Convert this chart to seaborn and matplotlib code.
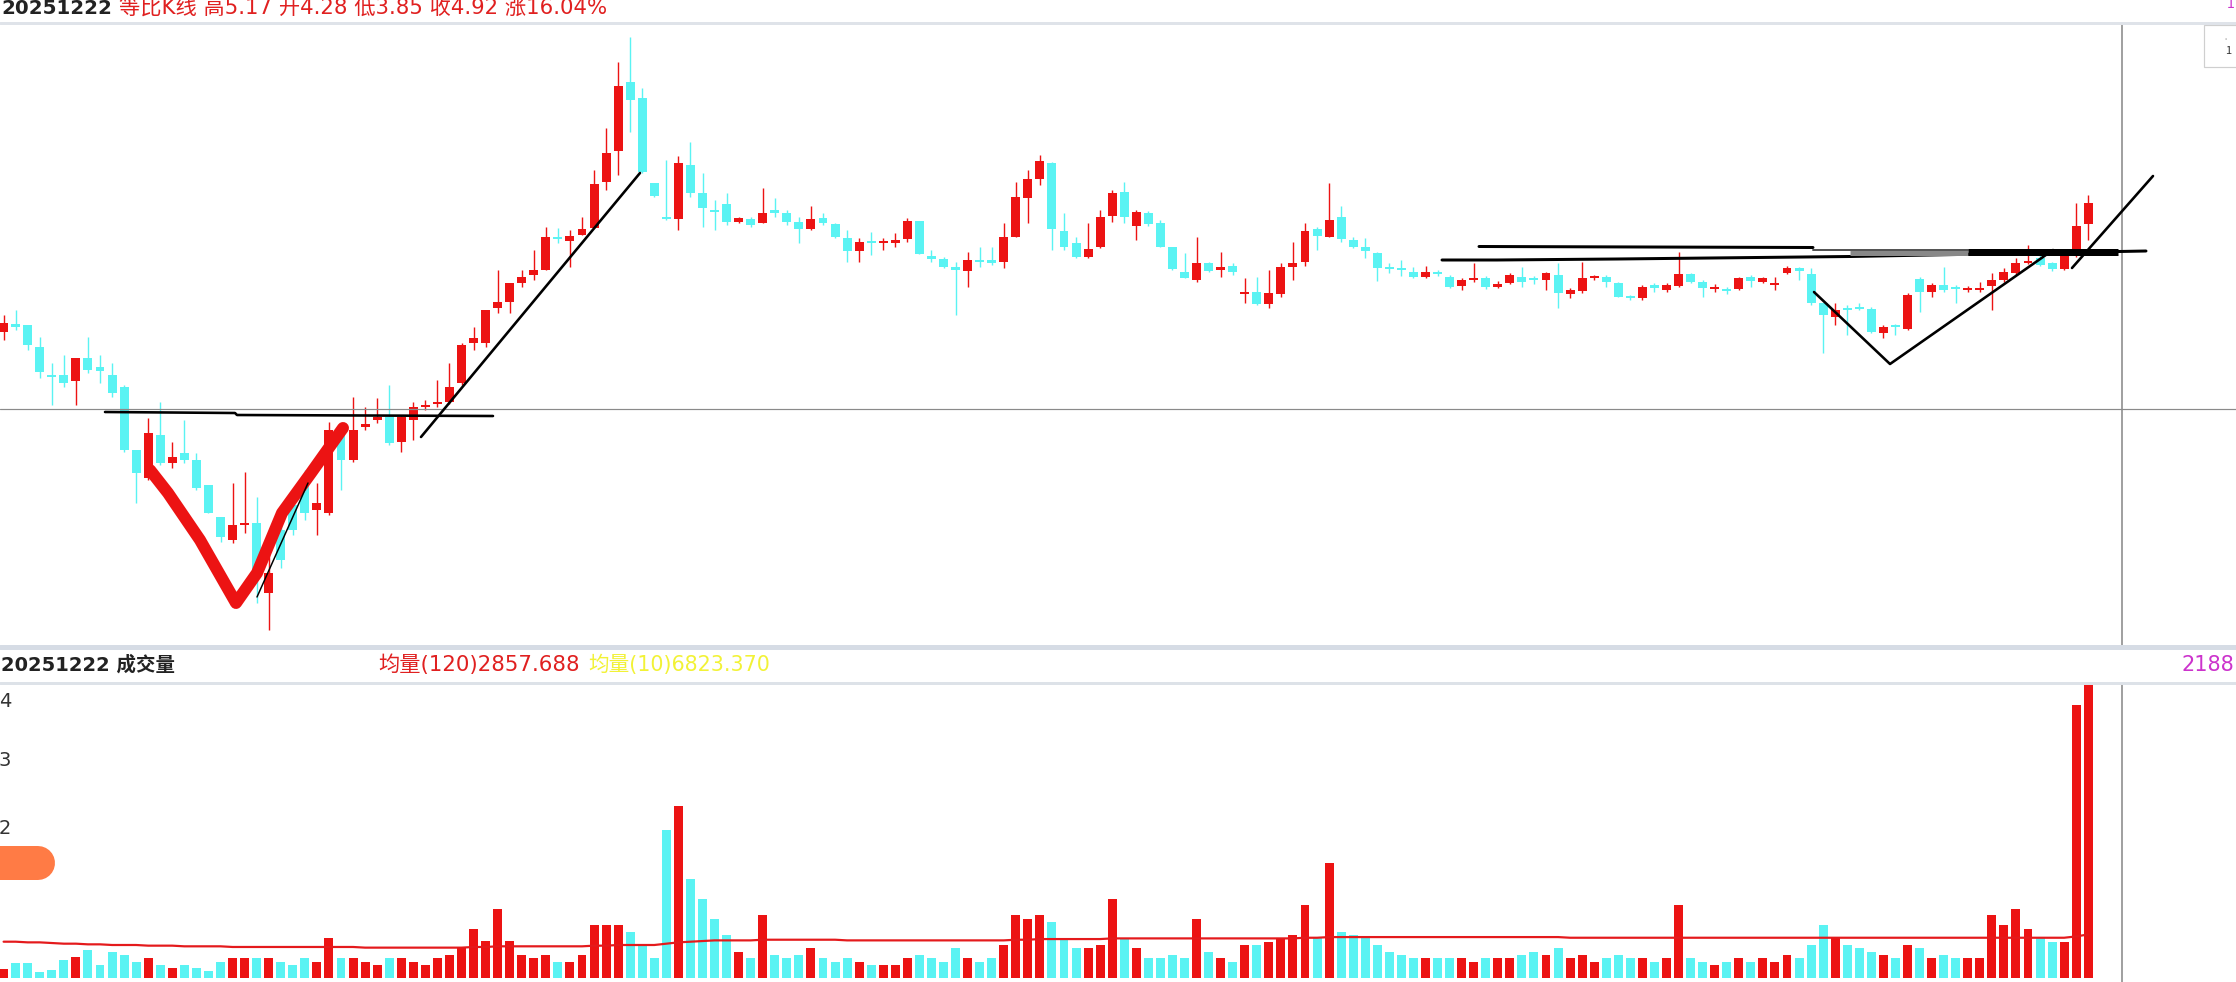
import numpy as np
import pandas as pd
import matplotlib
matplotlib.use("Agg")
import matplotlib.pyplot as plt
import seaborn as sns
from matplotlib.transforms import Affine2D
from matplotlib.patches import Rectangle

# ---------------- data ----------------
open_ = [3.68,3.76,3.75,3.53,3.25,3.25,3.19,3.42,3.33,3.25,
         3.13,2.50,2.22,2.65,2.37,2.47,2.40,2.15,1.83,1.60,
         1.75,1.77,1.07,1.70,1.95,2.17,1.90,1.87,2.67,2.40,
         2.73,2.80,2.83,2.58,2.80,2.93,2.96,2.98,3.17,3.57,
         3.57,3.92,3.98,4.17,4.25,4.30,4.63,4.59,4.65,4.72,
         5.18,5.49,6.18,6.02,5.17,4.83,4.81,5.35,5.07,4.90,
         4.96,4.78,4.81,4.77,4.90,4.87,4.78,4.71,4.82,4.76,
         4.62,4.49,4.59,4.57,4.57,4.61,4.79,4.44,4.41,4.33,
         4.29,4.40,4.40,4.38,4.63,5.02,5.21,5.37,4.69,4.57,
         4.43,4.53,4.84,5.08,4.74,4.87,4.77,4.53,4.28,4.20,
         4.37,4.30,4.34,4.06,4.08,3.96,4.06,4.33,4.38,4.71,
         4.63,4.83,4.60,4.53,4.47,4.33,4.32,4.28,4.23,4.28,
         4.23,4.14,4.20,4.22,4.13,4.17,4.23,4.22,4.20,4.25,
         4.06,4.09,4.22,4.23,4.17,4.03,4.02,4.15,4.10,4.14,
         4.26,4.18,4.11,4.11,4.11,4.23,4.18,4.15,4.27,4.32,
         4.26,3.97,3.83,3.92,3.93,3.91,3.67,3.75,3.71,4.21,
         4.08,4.15,4.13,4.10,4.10,4.14,4.20,4.27,4.37,4.42,
         4.37,4.31,4.44,4.76]
high = [3.85,3.90,3.75,3.63,3.37,3.45,3.42,3.63,3.45,3.37,
        3.15,2.50,2.82,2.98,2.58,2.80,2.47,2.15,1.83,2.17,
        2.28,2.03,1.60,1.80,2.05,2.30,2.17,2.78,2.75,3.03,
        2.93,3.02,3.15,2.85,2.98,3.00,3.20,3.37,3.57,3.73,
        3.90,4.30,4.17,4.30,4.50,4.73,4.72,4.70,4.83,5.30,
        5.72,6.38,6.63,6.12,5.17,5.40,5.44,5.58,5.27,5.00,
        5.07,4.83,4.83,5.12,5.02,4.90,4.83,4.94,4.87,4.77,
        4.70,4.62,4.68,4.62,4.67,4.82,4.79,4.50,4.43,4.38,
        4.48,4.53,4.53,4.77,5.18,5.30,5.45,5.38,4.87,4.63,
        4.77,4.90,5.10,5.18,4.90,4.89,4.80,4.53,4.47,4.63,
        4.38,4.48,4.37,4.22,4.23,4.30,4.37,4.58,4.77,4.73,
        5.17,4.94,4.63,4.62,4.48,4.37,4.40,4.33,4.34,4.30,
        4.25,4.22,4.37,4.24,4.19,4.27,4.33,4.24,4.28,4.37,
        4.12,4.38,4.25,4.25,4.18,4.05,4.15,4.17,4.17,4.48,
        4.27,4.20,4.16,4.13,4.23,4.25,4.23,4.23,4.34,4.33,
        4.32,3.97,3.97,3.95,3.97,3.93,3.75,3.76,4.07,4.23,
        4.17,4.33,4.15,4.14,4.18,4.27,4.32,4.42,4.55,4.45,
        4.38,4.46,4.97,5.05]
low = [3.60,3.70,3.50,3.22,2.95,3.13,2.95,3.27,3.17,3.03,
       2.48,1.97,2.20,2.35,2.32,2.37,2.10,1.87,1.58,1.57,
       1.67,0.97,0.70,1.32,1.65,1.80,1.65,1.85,2.10,2.38,
       2.70,2.77,2.55,2.48,2.60,2.90,2.93,2.96,3.15,3.50,
       3.53,3.87,3.87,4.13,4.20,4.30,4.57,4.33,4.65,4.72,
       5.10,5.25,5.68,5.27,5.03,4.80,4.70,5.03,4.73,4.70,
       4.75,4.77,4.73,4.77,4.83,4.75,4.57,4.70,4.75,4.62,
       4.38,4.38,4.45,4.50,4.53,4.58,4.46,4.38,4.32,3.85,
       4.13,4.33,4.35,4.32,4.63,4.77,5.15,4.50,4.50,4.42,
       4.42,4.52,4.78,4.77,4.60,4.74,4.53,4.30,4.22,4.18,
       4.28,4.23,4.25,3.97,3.95,3.92,4.03,4.20,4.34,4.50,
       4.63,4.58,4.52,4.42,4.19,4.27,4.24,4.22,4.22,4.24,
       4.12,4.10,4.18,4.11,4.12,4.16,4.13,4.16,4.10,3.92,
       4.02,4.07,4.20,4.13,4.03,4.00,4.00,4.08,4.08,4.13,
       4.17,4.03,4.08,4.06,4.10,4.13,4.17,4.10,4.26,4.20,
       3.95,3.47,3.75,3.65,3.90,3.67,3.62,3.65,3.70,3.88,
       4.03,4.08,3.97,4.08,4.08,3.90,4.18,4.25,4.36,4.34,
       4.29,4.30,4.43,4.60]
close = [3.77,3.73,3.55,3.28,3.23,3.17,3.42,3.30,3.29,3.07,
         2.50,2.27,2.67,2.37,2.43,2.40,2.12,1.87,1.63,1.75,
         1.77,1.27,1.27,1.40,1.70,1.87,1.97,2.70,2.40,2.70,
         2.76,2.83,2.57,2.83,2.93,2.95,2.98,3.13,3.55,3.62,
         3.90,3.98,4.17,4.23,4.30,4.63,4.61,4.64,4.71,5.16,
         5.47,6.14,6.00,5.28,5.04,4.81,5.37,5.07,4.92,4.88,
         4.78,4.82,4.75,4.87,4.87,4.78,4.71,4.81,4.77,4.63,
         4.49,4.58,4.57,4.59,4.60,4.79,4.46,4.41,4.33,4.30,
         4.40,4.38,4.37,4.63,5.03,5.21,5.39,4.71,4.53,4.43,
         4.51,4.83,5.07,4.83,4.88,4.76,4.53,4.31,4.22,4.37,
         4.29,4.33,4.28,4.08,3.96,4.07,4.33,4.37,4.69,4.64,
         4.80,4.61,4.53,4.49,4.32,4.31,4.30,4.23,4.28,4.26,
         4.13,4.20,4.22,4.13,4.16,4.25,4.18,4.20,4.27,4.07,
         4.10,4.22,4.24,4.18,4.03,4.02,4.13,4.12,4.15,4.26,
         4.18,4.12,4.13,4.09,4.22,4.19,4.22,4.17,4.32,4.29,
         3.97,3.85,3.90,3.90,3.91,3.68,3.73,3.73,4.05,4.08,
         4.15,4.10,4.11,4.12,4.12,4.20,4.28,4.37,4.39,4.35,
         4.31,4.44,4.74,4.97]
volume = [0.13,0.23,0.23,0.09,0.12,0.27,0.32,0.42,0.20,0.40,
          0.35,0.25,0.30,0.20,0.15,0.20,0.15,0.10,0.25,0.30,
          0.30,0.30,0.30,0.25,0.20,0.30,0.25,0.60,0.30,0.30,
          0.25,0.20,0.30,0.30,0.25,0.20,0.30,0.35,0.45,0.75,
          0.56,1.05,0.56,0.35,0.30,0.35,0.25,0.25,0.35,0.80,
          0.80,0.80,0.70,0.50,0.30,2.24,2.61,1.50,1.20,0.90,
          0.65,0.40,0.30,0.95,0.35,0.30,0.35,0.45,0.30,0.25,
          0.30,0.25,0.20,0.20,0.20,0.30,0.35,0.30,0.25,0.45,
          0.30,0.25,0.30,0.50,0.95,0.90,0.95,0.85,0.60,0.45,
          0.45,0.50,1.20,0.60,0.45,0.30,0.30,0.35,0.30,0.90,
          0.40,0.30,0.25,0.50,0.50,0.55,0.60,0.65,1.10,0.60,
          1.75,0.70,0.65,0.60,0.50,0.40,0.35,0.30,0.30,0.30,
          0.30,0.30,0.25,0.30,0.30,0.30,0.35,0.40,0.35,0.45,
          0.30,0.35,0.25,0.30,0.35,0.30,0.30,0.25,0.30,1.10,
          0.30,0.25,0.20,0.25,0.30,0.25,0.30,0.25,0.35,0.30,
          0.50,0.80,0.60,0.50,0.45,0.40,0.35,0.30,0.50,0.45,
          0.30,0.35,0.30,0.30,0.30,0.95,0.80,1.05,0.75,0.60,
          0.55,0.55,4.14,4.45]
ma120 = [0.55,0.55,0.54,0.54,0.53,0.52,0.52,0.51,0.51,0.50,
         0.50,0.50,0.49,0.49,0.49,0.48,0.48,0.48,0.48,0.47,
         0.47,0.47,0.47,0.47,0.47,0.47,0.47,0.47,0.47,0.47,
         0.46,0.46,0.46,0.46,0.46,0.46,0.46,0.46,0.46,0.47,
         0.47,0.48,0.48,0.48,0.48,0.48,0.48,0.48,0.48,0.49,
         0.49,0.50,0.50,0.50,0.50,0.52,0.54,0.55,0.56,0.57,
         0.57,0.57,0.57,0.58,0.58,0.58,0.58,0.58,0.58,0.58,
         0.57,0.57,0.57,0.57,0.57,0.57,0.57,0.57,0.57,0.57,
         0.57,0.57,0.57,0.57,0.58,0.58,0.59,0.59,0.59,0.59,
         0.59,0.59,0.60,0.60,0.60,0.60,0.60,0.60,0.60,0.60,
         0.60,0.60,0.60,0.60,0.60,0.60,0.60,0.60,0.61,0.61,
         0.62,0.62,0.62,0.62,0.62,0.62,0.62,0.62,0.62,0.62,
         0.62,0.62,0.62,0.62,0.62,0.62,0.62,0.62,0.62,0.62,
         0.61,0.61,0.61,0.61,0.61,0.61,0.61,0.61,0.61,0.61,
         0.61,0.61,0.61,0.61,0.61,0.61,0.61,0.61,0.61,0.61,
         0.61,0.61,0.61,0.61,0.61,0.61,0.61,0.61,0.61,0.61,
         0.61,0.61,0.61,0.61,0.61,0.61,0.61,0.61,0.61,0.61,
         0.61,0.61,0.63,0.66]
vol_ticks = ["4", "3", "2"]
date_label = "20251222"
price_header = "等比K线 高5.17 开4.28 低3.85 收4.92 涨16.04%"
vol_header = "成交量"
ma_long_label = "均量(120)2857.688"
ma_short_label = "均量(10)6823.370"
right_value = "2188"

# ---------------- style ----------------
W, H = 2236, 982
RED = "#EC1313"
CYAN = "#5AF3F3"
sns.set_theme(style="white")
plt.rcParams["font.family"] = ["Noto Sans CJK SC", "DejaVu Sans"]
WIDE = ["DejaVu Sans", "Noto Sans CJK SC"]

fig = plt.figure(figsize=(W / 100, H / 100), dpi=100)
fig.patch.set_facecolor("white")
REF = Affine2D().scale(1 / W, -1 / H).translate(0, 1) + fig.transFigure
PT = 72 / 100  # points per reference pixel

n = len(close)
idx = np.arange(n)
X0, DX = 3.6, 12.05
xlim = (-X0 / DX, (W - X0) / DX)

# price panel: ref y 25..645 ; price = 7 - y/100
ax = fig.add_axes([0, 1 - 645 / H, 1, (645 - 25) / H])
ax.set_xlim(*xlim)
ax.set_ylim(7 - 645 / 100, 7 - 25 / 100)
ax.set_axis_off()

o = np.array(open_); c = np.array(close); hi = np.array(high); lo = np.array(low)
up = c >= o
cols = np.where(up, RED, CYAN)
ax.vlines(idx, lo, hi, colors=cols, linewidth=1.4 * PT, zorder=2)
body_bot = np.minimum(o, c)
body_h = np.maximum(np.abs(c - o), 0.018)
ax.bar(idx, body_h, bottom=body_bot, width=0.74, color=cols, linewidth=0, zorder=3)

# volume panel: ref y 685..982 ; v = (978 - y)/66
axv = fig.add_axes([0, 0, 1, (982 - 685) / H])
df = pd.DataFrame({"i": idx, "vol": volume, "dir": np.where(up, "up", "down"), "ma": ma120})
sns.barplot(data=df, x="i", y="vol", hue="dir", palette={"up": RED, "down": CYAN},
            native_scale=True, dodge=False, width=0.74, errorbar=None, legend=False,
            saturation=1, linewidth=0, ax=axv)
sns.lineplot(data=df, x="i", y="ma", color="#E41A1C", linewidth=2.2 * PT, ax=axv, zorder=5)
axv.set_xlim(*xlim)
axv.set_ylim((978 - 982) / 66, (978 - 685) / 66)
axv.set_axis_off()

# ---------------- frame / separators ----------------
def hline(y, x0, x1, color, lw):
    fig.add_artist(plt.Line2D([x0, x1], [y, y], transform=REF, color=color, linewidth=lw * PT))

def poly(pts, color, lw, z=10, cap="round"):
    xs, ys = zip(*pts)
    fig.add_artist(plt.Line2D(xs, ys, transform=REF, color=color, linewidth=lw * PT,
                              solid_capstyle=cap, solid_joinstyle="round", zorder=z))

hline(23.5, 0, W, "#dfe3e9", 3)
hline(647.5, 0, W, "#d6dce5", 5)
hline(683.5, 0, W, "#dde2e8", 3)

# crosshair
hline(409, 0, W, "#8a8a8a", 1.2)
poly([(2122, 25), (2122, 645)], "#8a8a8a", 1.6, z=4, cap="butt")
poly([(2122, 685), (2122, 982)], "#8a8a8a", 1.6, z=4, cap="butt")

# hand-drawn annotations
poly([(105, 412), (235, 413), (237, 415), (493, 416)], "black", 2.6)
poly([(150, 470), (168, 493), (200, 540), (236, 603), (257, 573), (282, 513),
      (311, 473), (343, 428)], RED, 12)
poly([(257, 597), (308, 483)], "black", 1.5)
poly([(421, 437), (640, 173)], "black", 2.6)
poly([(1479, 246.5), (1813, 247.5)], "black", 3)
poly([(1813, 250), (1968, 250)], "#555555", 2)
poly([(1442, 260), (1497, 260), (1617, 259), (1850, 256.5), (2146, 251)], "black", 3)
poly([(1850, 253.5), (1968, 253.5)], "#888888", 5, cap="butt")
poly([(1968, 252.5), (2118, 252.5)], "black", 7, cap="butt")
poly([(1814, 292), (1890, 364), (2053, 250)], "black", 2.6)
poly([(2072, 268), (2153, 176)], "black", 2.6)

# orange blob at the left of the volume panel
poly([(-10, 863), (38, 863)], "#FF7B45", 34)

# top-right small box
fig.add_artist(Rectangle((2204, 25), 40, 42, transform=REF, facecolor="white",
                         edgecolor="#cfcfcf", linewidth=1.2 * PT))
fig.text(2226, 39, "·", transform=REF, fontsize=6, color="#bbbbbb", ha="center", va="center")
fig.text(2228, 51, "1", transform=REF, fontsize=8, color="#333333", ha="center", va="center")
fig.text(2231, 4, "1", transform=REF, fontsize=10, color="#cc33cc", ha="center", va="center")

# ---------------- texts ----------------
fig.text(1, 8, date_label, transform=REF, fontsize=14.3, fontweight="bold", family=WIDE,
         color="#222222", ha="left", va="center")
fig.text(119, 8, price_header, transform=REF, fontsize=15.3, color="#E02020", family=WIDE,
         ha="left", va="center")
fig.text(1, 665, date_label + " " + vol_header, transform=REF, fontsize=14, family=WIDE,
         fontweight="bold", color="#222222", ha="left", va="center")
fig.text(378, 665, ma_long_label, transform=REF, fontsize=15.3, color="#E02020", family=WIDE,
         ha="left", va="center")
fig.text(588, 665, ma_short_label, transform=REF, fontsize=14.9, color="#F2F236", family=WIDE,
         ha="left", va="center")
fig.text(2234, 665, right_value, transform=REF, fontsize=15, color="#CC33CC", family=WIDE,
         ha="right", va="center")
for lab, yy in zip(vol_ticks, [702, 761, 829]):
    fig.text(5, yy, lab, transform=REF, fontsize=14, color="#333333", family=WIDE,
             ha="center", va="center")

fig.savefig("out.png", dpi=100, facecolor="white")
